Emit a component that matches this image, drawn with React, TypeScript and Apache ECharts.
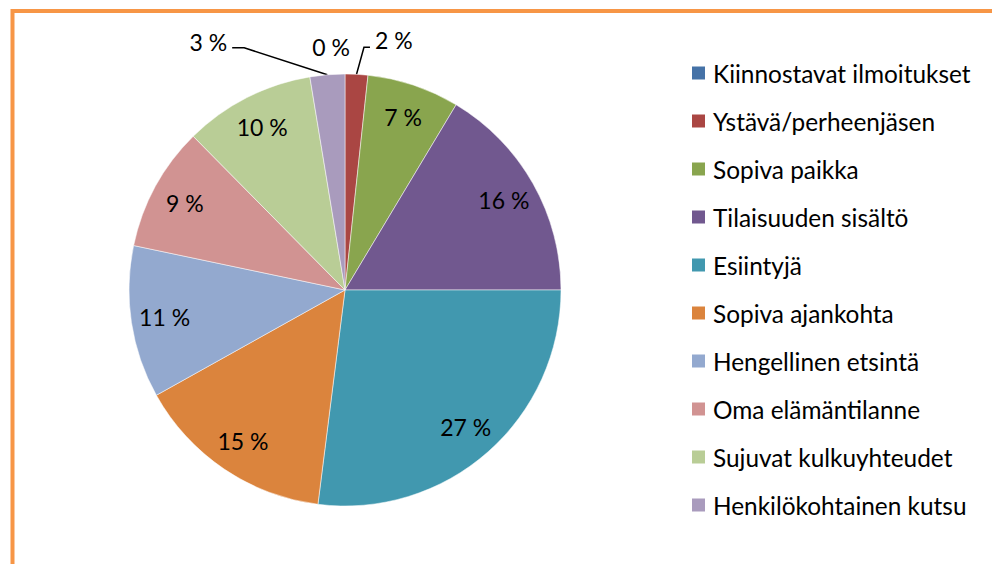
import React, { useEffect, useRef } from "react";
import * as echarts from "echarts";

const categories = [
  "Kiinnostavat ilmoitukset",
  "Ystävä/perheenjäsen",
  "Sopiva paikka",
  "Tilaisuuden sisältö",
  "Esiintyjä",
  "Sopiva ajankohta",
  "Hengellinen etsintä",
  "Oma elämäntilanne",
  "Sujuvat kulkuyhteudet",
  "Henkilökohtainen kutsu",
];
const values = [0, 1.7, 6.9, 16.4, 27.0, 14.9, 11.4, 9.3, 9.8, 2.6];
const colors = [
  "#4572A7",
  "#AA4643",
  "#89A54E",
  "#71588F",
  "#4198AF",
  "#DB843D",
  "#93A9CF",
  "#D19392",
  "#B9CD96",
  "#A99BBD",
];
const outsideLabelIdx = [0, 1, 9];

const FONT = "Lato";
const FS = 23;
const LEGEND_FS = 24.4;

export default function App() {
  const ref = useRef<HTMLDivElement>(null);
  useEffect(() => {
    if (!ref.current) return;
    const chart = echarts.init(ref.current, null, { renderer: "svg" });
    const fmt = (p: any) => Math.round(p.percent) + " %";
    const center = [345, 290];
    const R = 216;

    const mainData = categories.map((name, i) => {
      const outside = outsideLabelIdx.includes(i);
      return {
        name,
        value: values[i],
        itemStyle: { color: colors[i] },
        label: { show: outside },
        labelLine: {
          show: outside && i !== 0,
          length: 27,
          length2: i === 9 ? 93 : 12,
        },
      };
    });
    const labelData = categories.map((name, i) => ({
      name,
      value: values[i],
      label: { show: !outsideLabelIdx.includes(i) },
    }));

    chart.setOption({
      animation: false,
      backgroundColor: "#ffffff",
      graphic: [
        {
          type: "rect",
          shape: { x: 12.5, y: 11, width: 1200, height: 900 },
          style: { fill: "none", stroke: "#F79646", lineWidth: 4 },
          silent: true,
          z: -10,
        },
      ],
      legend: {
        orient: "vertical",
        left: 690,
        top: 58,
        padding: 0,
        itemWidth: 15,
        itemHeight: 15,
        itemGap: 18,
        icon: "rect",
        selectedMode: false,
        textStyle: {
          fontFamily: FONT,
          fontSize: LEGEND_FS,
          color: "#000",
          lineHeight: 30,
          padding: [0, 0, 0, 2],
        },
        data: categories.map((name, i) => ({
          name,
          itemStyle: { color: colors[i] },
        })),
      },
      series: [
        {
          type: "pie",
          center,
          radius: R,
          startAngle: 90,
          clockwise: true,
          avoidLabelOverlap: false,
          emphasis: { disabled: true },
          itemStyle: { borderColor: "#ffffff", borderWidth: 0.5 },
          label: {
            position: "outside",
            formatter: fmt,
            fontFamily: FONT,
            fontSize: FS,
            color: "#000",
          },
          labelLine: {
            lineStyle: { color: "#000", width: 1.5 },
            smooth: false,
          },
          labelLayout: (p: any) => {
            const pts = p.labelLinePoints;
            if (!pts) return {};
            if (p.dataIndex === 0) {
              return {
                x: pts[0][0] - 14,
                y: pts[0][1] - 27,
                align: "center",
                verticalAlign: "middle",
              };
            }
            if (p.dataIndex === 1) {
              return {
                y: pts[2][1] - 7,
                verticalAlign: "middle",
                labelLinePoints: [pts[0], [pts[1][0] + 6, pts[1][1]], pts[2]],
              };
            }
            if (p.dataIndex === 9) {
              return {
                y: pts[2][1] - 6,
                verticalAlign: "middle",
                labelLinePoints: [
                  pts[0],
                  [pts[2][0] + 12, pts[2][1]],
                  pts[2],
                ],
              };
            }
            return {};
          },
          data: mainData,
        },
        {
          type: "pie",
          center,
          radius: [143, R],
          startAngle: 90,
          clockwise: true,
          silent: true,
          avoidLabelOverlap: false,
          emphasis: { disabled: true },
          itemStyle: { color: "rgba(0,0,0,0)", borderWidth: 0 },
          label: {
            position: "inside",
            formatter: fmt,
            fontFamily: FONT,
            fontSize: FS,
            color: "#000",
          },
          labelLine: { show: false },
          data: labelData,
        },
      ],
    });
    return () => chart.dispose();
  }, []);
  return (
    <div
      ref={ref}
      style={{ position: "absolute", left: 0, top: 0, width: 992, height: 564 }}
    />
  );
}
